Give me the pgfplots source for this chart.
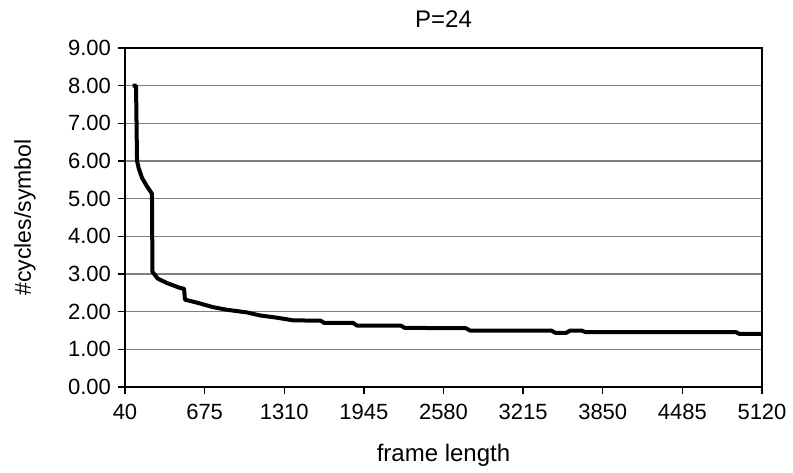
\documentclass[border=0pt]{standalone}
\usepackage{pgfplots}
\pgfplotsset{compat=1.18}
\usepackage{fontspec}
\setmainfont{Liberation Sans}
\begin{document}
\begin{tikzpicture}
% frame of the whole picture: 1 px of the reference = 0.5pt
\useasboundingbox (-62.5pt,-42.5pt) rectangle (334pt,193.5pt);
\begin{axis}[
    scale only axis,
    width=318.5pt,
    height=169.5pt,
    xmin=40, xmax=5120,
    ymin=0, ymax=9,
    xtick={40,675,1310,1945,2580,3215,3850,4485,5120},
    ytick={0,1,2,3,4,5,6,7,8,9},
    xtick pos=bottom,
    ytick pos=left,
    tick align=outside,
    major tick length=3.5pt,
    tick style={black, line width=0.7pt},
    axis line style={black, line width=0.8pt},
    ymajorgrids,
    major grid style={gray, line width=0.7pt},
    /pgf/number format/assume math mode=true,
    xticklabel style={/pgf/number format/1000 sep={}, font=\fontsize{11}{13}\selectfont, yshift=-1.5pt},
    yticklabel style={/pgf/number format/.cd, fixed, fixed zerofill, precision=2,
      /tikz/.cd, font=\fontsize{11}{13}\selectfont},
    title={P=24},
    title style={at={(axis description cs:0.5,1.0265)}, anchor=base, font=\fontsize{12}{14}\selectfont},
    xlabel={frame length},
    xlabel style={at={(axis description cs:0.5,-0.2183)}, anchor=base, font=\fontsize{12}{14}\selectfont},
    ylabel={\#cycles/symbol},
    ylabel style={at={(axis description cs:-0.1476,0.5)}, anchor=base, font=\fontsize{11.5}{13}\selectfont},
]
\addplot[black, line width=2pt, line join=round] coordinates {
(100,8.00) (128,8.00) (136,6.00) (150,5.80) (176,5.55) (215,5.33)
(255,5.13) (259,3.06) (300,2.88) (375,2.76) (479,2.63) (511,2.61)
(518,2.32) (614,2.24) (742,2.12) (853,2.05) (1013,1.98) (1117,1.90)
(1252,1.84) (1380,1.77) (1600,1.76) (1630,1.70) (1860,1.70) (1890,1.63)
(2240,1.63) (2270,1.57) (2760,1.56) (2790,1.50) (3440,1.50) (3470,1.44)
(3560,1.44) (3590,1.50) (3680,1.50) (3710,1.46) (4910,1.46) (4940,1.41)
(5120,1.41)
};
\end{axis}
\end{tikzpicture}
\end{document}
